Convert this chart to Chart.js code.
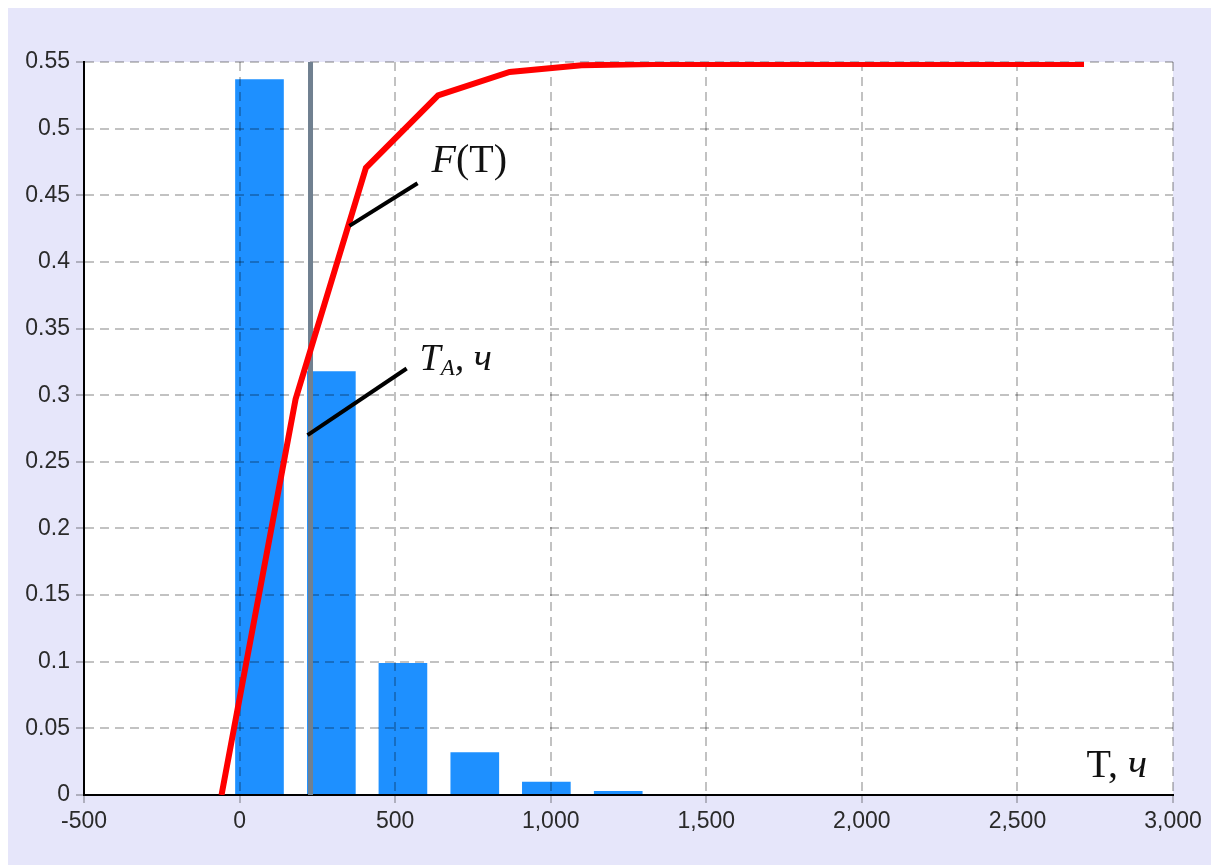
<!DOCTYPE html>
<html>
<head>
<meta charset="utf-8">
<title>F(T)</title>
<script src="https://cdn.jsdelivr.net/npm/chart.js@4/dist/chart.umd.min.js"></script>
<style>
  html, body { margin: 0; padding: 0; background: #ffffff; }
  #wrap {
    position: absolute; left: 8px; top: 8px;
    width: 1203px; height: 857px;
    background: #e6e6fa;
  }
  canvas { display: block; }
</style>
</head>
<body>
<div id="wrap"><canvas id="chart" width="1203" height="857"></canvas></div>
<script>
// Histogram of failure times (share of units per time bin)
const binCenters = [64, 295, 525, 756, 986, 1217];
const binShares  = [0.537, 0.318, 0.099, 0.032, 0.010, 0.003];

// Cumulative curve F(T)
const cdfT = [-58, 180, 406, 638, 868, 1099, 1329, 1560, 1790, 2021, 2252, 2483, 2714];
const cdfF = [0, 0.297, 0.4705, 0.525, 0.5425, 0.5475, 0.5485, 0.5485, 0.5485, 0.5485, 0.5485, 0.5485, 0.5485];

// Mean time T_A, hours
const tA = 228;

// Leader lines for the callouts
const fLeaderT = [353, 572];
const fLeaderF = [0.427, 0.459];
const taLeaderT = [218.5, 537];
const taLeaderF = [0.270, 0.320];

// Tick labels
const xTicks = [-500, 0, 500, 1000, 1500, 2000, 2500, 3000];
const yTicks = [0, 0.05, 0.1, 0.15, 0.2, 0.25, 0.3, 0.35, 0.4, 0.45, 0.5, 0.55];

const pts = (xs, ys) => xs.map((x, i) => ({ x: x, y: ys[i] }));

const GRID = 'rgba(0,0,0,0.24)';
const DASH = [9, 6];

// White plotting area on the lavender canvas
const plotBackground = {
  id: 'plotBackground',
  beforeDraw(chart) {
    const { ctx, chartArea: a } = chart;
    ctx.save();
    ctx.fillStyle = '#ffffff';
    ctx.fillRect(a.left, a.top, a.right - a.left, a.bottom - a.top);
    ctx.restore();
  }
};

// Grid lines show through the histogram bars
const gridOverBars = {
  id: 'gridOverBars',
  afterDatasetDraw(chart, args) {
    if (args.meta.type !== 'bar') return;
    const ctx = chart.ctx;
    ctx.save();
    ctx.beginPath();
    args.meta.data.forEach(b => {
      const p = b.getProps(['x', 'y', 'base', 'width'], true);
      ctx.rect(p.x - p.width / 2, p.y, p.width, p.base - p.y);
    });
    ctx.clip();
    chart.scales.x.drawGrid(chart.chartArea);
    chart.scales.y.drawGrid(chart.chartArea);
    ctx.restore();
  }
};

// Callout texts, anchored in data coordinates
const callouts = {
  id: 'callouts',
  afterDatasetsDraw(chart) {
    const { ctx, scales: { x, y } } = chart;
    const run = (parts, t, f) => {
      let px = x.getPixelForValue(t);
      const py = y.getPixelForValue(f);
      parts.forEach(([text, font, dy]) => {
        ctx.font = font;
        ctx.fillText(text, px, py + (dy || 0));
        px += ctx.measureText(text).width;
      });
    };
    ctx.save();
    ctx.fillStyle = '#111111';
    ctx.textBaseline = 'alphabetic';
    ctx.textAlign = 'left';
    const serif = '"Liberation Serif", "Times New Roman", serif';
    run([['F', 'italic 40px ' + serif], ['(T)', '40px ' + serif]], 617, 0.4675);
    run([['T', 'italic 38px ' + serif], ['A', 'italic 23px ' + serif, 5], [', ', 'italic 38px ' + serif], ['ч', 'italic 38px ' + serif]], 578.5, 0.3189);
    run([['T, ', '40px ' + serif], ['ч', 'italic 40px ' + serif]], 2722, 0.0135);
    ctx.restore();
  }
};

Chart.defaults.font.family = '"Liberation Sans", Arial, sans-serif';
Chart.defaults.font.size = 23;
Chart.defaults.color = '#2a2a2a';

new Chart(document.getElementById('chart'), {
  data: {
    datasets: [
      {
        type: 'line',
        data: pts(fLeaderT, fLeaderF),
        borderColor: '#000000',
        borderWidth: 4,
        pointRadius: 0,
        order: 0
      },
      {
        type: 'line',
        data: pts(taLeaderT, taLeaderF),
        borderColor: '#000000',
        borderWidth: 4,
        pointRadius: 0,
        order: 0
      },
      {
        type: 'line',
        data: pts(cdfT, cdfF),
        borderColor: '#ff0000',
        borderWidth: 6,
        pointRadius: 0,
        tension: 0,
        order: 1
      },
      {
        type: 'line',
        data: [{ x: tA, y: 0 }, { x: tA, y: 0.55 }],
        borderColor: '#708090',
        borderWidth: 5,
        pointRadius: 0,
        order: 2
      },
      {
        type: 'bar',
        data: pts(binCenters, binShares),
        backgroundColor: '#1e90ff',
        borderWidth: 0,
        barPercentage: 0.68,
        categoryPercentage: 1.0,
        order: 3
      }
    ]
  },
  options: {
    responsive: false,
    animation: false,
    events: [],
    layout: { padding: { left: 0, top: 54, right: 38, bottom: 0 } },
    plugins: { legend: { display: false }, tooltip: { enabled: false } },
    scales: {
      x: {
        type: 'linear',
        min: -500,
        max: 3000,
        offset: false,
        afterBuildTicks: s => { s.ticks = xTicks.map(v => ({ value: v })); },
        afterFit: s => { s.height = 70; },
        ticks: {
          autoSkip: false,
          maxRotation: 0,
          padding: 5,
          callback: v => Number(v).toLocaleString('en-US')
        },
        grid: {
          offset: false,
          color: GRID,
          lineWidth: 2,
          tickLength: 8,
          tickColor: GRID,
          tickWidth: 2
        },
        border: { display: true, color: '#000000', width: 2, dash: DASH }
      },
      y: {
        type: 'linear',
        min: 0,
        max: 0.55,
        afterBuildTicks: s => { s.ticks = yTicks.map(v => ({ value: v })); },
        afterFit: s => { s.width = 76; },
        ticks: {
          autoSkip: false,
          padding: 6,
          callback: v => String(v)
        },
        grid: {
          color: GRID,
          lineWidth: 2,
          tickLength: 8,
          tickColor: GRID,
          tickWidth: 2
        },
        border: { display: true, color: '#000000', width: 2, dash: DASH }
      }
    }
  },
  plugins: [plotBackground, gridOverBars, callouts]
});
</script>
</body>
</html>
